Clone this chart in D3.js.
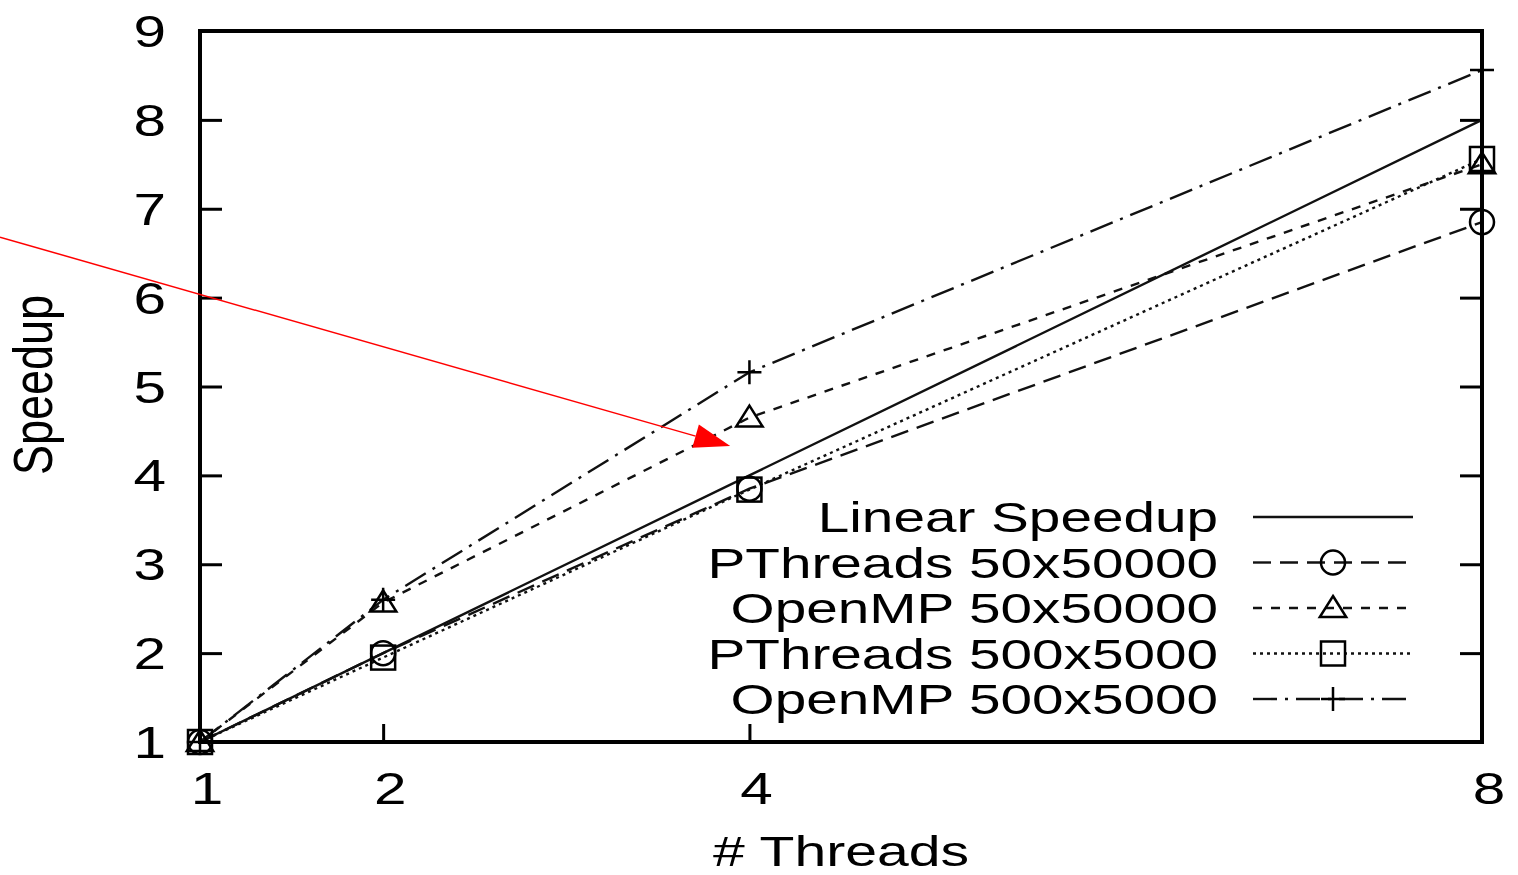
<!DOCTYPE html>
<html><head><meta charset="utf-8">
<script src="https://cdn.jsdelivr.net/npm/d3@7"></script>
<style>html,body{margin:0;padding:0;background:#fff;}svg{display:block;}</style>
</head><body>
<svg id="chart" width="1518" height="875"></svg>
<script>
// ---- data ----
const threads = [1, 2, 4, 8];
const seriesNames = ["Linear Speedup", "PThreads 50x50000", "OpenMP 50x50000", "PThreads 500x5000", "OpenMP 500x5000"];
const linearSpeedup = [1, 2, 4, 8];
const pthreads50x50000 = [1, 2.0, 3.85, 6.85];
const openmp50x50000 = [1, 2.57, 4.65, 7.5];
const pthreads500x5000 = [1, 1.95, 3.84, 7.56];
const openmp500x5000 = [1, 2.6, 5.16, 8.56];
const xTicks = [1, 2, 4, 8];
const yTicks = [1, 2, 3, 4, 5, 6, 7, 8, 9];
const xLabel = "# Threads";
const yLabel = "Speedup";
// red annotation arrow, in data coordinates (start, tip)
const arrowStart = [-0.092, 6.68];
const arrowTip = [3.895, 4.33];

const seriesValues = [linearSpeedup, pthreads50x50000, openmp50x50000, pthreads500x5000, openmp500x5000];
const dashes = [null, "18,9", "9,9", "3,4", "24,8,3,8"];
const markers = [null, "circle", "triangle", "square", "plus"];

// ---- layout ----
const svg = d3.select("#chart");
const L = 200, R = 1482, T = 31, B = 742;
const x = d3.scaleLinear().domain([1, 8]).range([L, R]);
const y = d3.scaleLinear().domain([1, 9]).range([B, T]);
const SX = 1.3;
const font = "'Liberation Sans', Arial, Helvetica, sans-serif";

// y ticks (left and mirrored right, inward)
const yAxisL = d3.axisLeft(y).tickValues(yTicks).tickSize(-22).tickFormat("");
const yAxisR = d3.axisRight(y).tickValues(yTicks).tickSize(-22).tickFormat("");
const xAxisB = d3.axisBottom(x).tickValues(xTicks).tickSize(-18).tickFormat("");
[[yAxisL, `translate(${L},0)`], [yAxisR, `translate(${R},0)`], [xAxisB, `translate(0,${B})`]].forEach(([ax, tr]) => {
  const g = svg.append("g").attr("transform", tr).call(ax);
  g.select(".domain").remove();
  g.selectAll("line").attr("stroke", "#000").attr("stroke-width", 3);
});

// tick labels
yTicks.forEach(v => {
  svg.append("text").attr("transform", `translate(166,${y(v) + 16}) scale(${SX},1)`)
    .attr("text-anchor", "end").attr("font-family", font).attr("font-size", 45).attr("fill", "#000").text(v);
});
xTicks.forEach(v => {
  svg.append("text").attr("transform", `translate(${x(v) + 7},${804}) scale(${SX},1)`)
    .attr("text-anchor", "middle").attr("font-family", font).attr("font-size", 45).attr("fill", "#000").text(v);
});

// axis titles
svg.append("text").attr("transform", `translate(841,866) scale(1.36,1)`)
  .attr("text-anchor", "middle").attr("font-family", font).attr("font-size", 42).attr("fill", "#000").text(xLabel);
svg.append("text").attr("transform", `translate(52,385) scale(1.25,1) rotate(-90)`)
  .attr("text-anchor", "middle").attr("font-family", font).attr("font-size", 45).attr("fill", "#000").text(yLabel);

// marker drawing
function drawMarker(g, type, cx, cy) {
  const s = 12;
  const st = {stroke: "#000", "stroke-width": 2.5, fill: "none"};
  let el;
  if (type === "circle") el = g.append("circle").attr("cx", cx).attr("cy", cy).attr("r", s);
  else if (type === "square") el = g.append("rect").attr("x", cx - s).attr("y", cy - s).attr("width", 2 * s).attr("height", 2 * s);
  else if (type === "triangle") el = g.append("path").attr("d", `M${cx},${cy - s}L${cx + s * 1.1},${cy + s * 0.75}L${cx - s * 1.1},${cy + s * 0.75}Z`);
  else if (type === "plus") el = g.append("path").attr("d", `M${cx - s},${cy}H${cx + s}M${cx},${cy - s}V${cy + s}`);
  if (el) Object.entries(st).forEach(([k, v]) => el.attr(k, v));
}

// series lines
const line = d3.line().x((d, i) => x(threads[i])).y(d => y(d));
const plotG = svg.append("g");
seriesValues.forEach((vals, si) => {
  plotG.append("path").attr("d", line(vals)).attr("fill", "none").attr("stroke", "#111")
    .attr("stroke-width", 2.4).attr("stroke-dasharray", dashes[si]);
});
seriesValues.forEach((vals, si) => {
  if (!markers[si]) return;
  vals.forEach((v, i) => drawMarker(plotG, markers[si], x(threads[i]), y(v)));
});

// frame
svg.append("rect").attr("x", L).attr("y", T).attr("width", R - L).attr("height", B - T)
  .attr("fill", "none").attr("stroke", "#000").attr("stroke-width", 4);

// legend
const legY0 = 517, legDY = 45.5;
seriesNames.forEach((name, si) => {
  const cy = legY0 + si * legDY;
  svg.append("text").attr("transform", `translate(1218,${cy + 15}) scale(1.35,1)`)
    .attr("text-anchor", "end").attr("font-family", font).attr("font-size", 42).attr("fill", "#000").text(name);
  svg.append("line").attr("x1", 1253).attr("x2", 1413).attr("y1", cy).attr("y2", cy)
    .attr("stroke", "#111").attr("stroke-width", 2.4).attr("stroke-dasharray", dashes[si]);
  if (markers[si]) drawMarker(svg, markers[si], 1333, cy);
});

// red annotation arrow
const ax0 = x(arrowStart[0]), ay0 = y(arrowStart[1]), ax1 = x(arrowTip[0]), ay1 = y(arrowTip[1]);
const ang = Math.atan2(ay1 - ay0, ax1 - ax0);
const hl = 36, hw = 12;
const bx = ax1 - hl * Math.cos(ang), by = ay1 - hl * Math.sin(ang);
svg.append("line").attr("x1", ax0).attr("y1", ay0).attr("x2", bx).attr("y2", by)
  .attr("stroke", "#f00").attr("stroke-width", 1.5);
svg.append("path").attr("d", `M${ax1},${ay1}L${bx - hw * Math.sin(ang)},${by + hw * Math.cos(ang)}L${bx + hw * Math.sin(ang)},${by - hw * Math.cos(ang)}Z`)
  .attr("fill", "#f00");
</script>
</body></html>
